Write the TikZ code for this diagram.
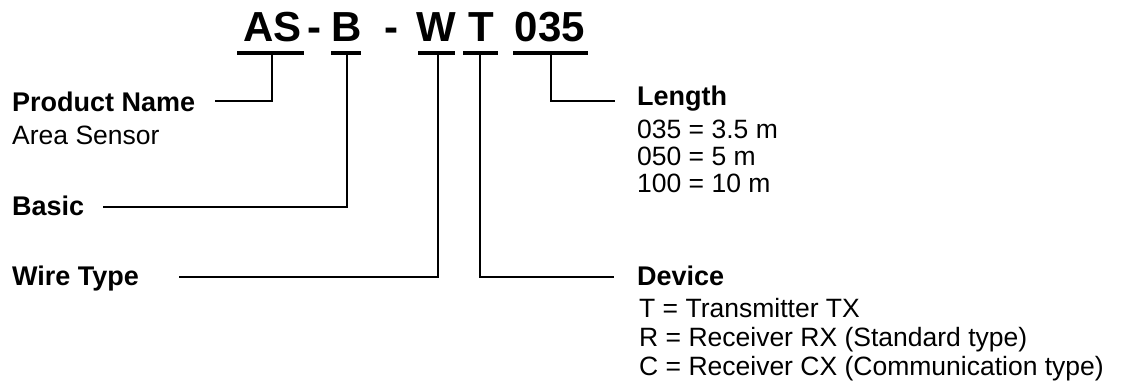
\documentclass[tikz,border=0pt]{standalone}
\usepackage{fontspec}
\setmainfont{Liberation Sans}
\begin{document}
\begin{tikzpicture}[x=1pt,y=-1pt,
  ttl/.style={font=\fontsize{42}{44}\selectfont\bfseries, anchor=base, inner sep=0pt},
  lbl/.style={font=\fontsize{27}{30}\selectfont\bfseries, anchor=base west, inner sep=0pt},
  txt/.style={font=\fontsize{26.5}{28}\selectfont, anchor=base west, inner sep=0pt},
  conn/.style={line width=2.6pt, line join=miter},
  uline/.style={line width=3.2pt}]
\useasboundingbox (0,0) rectangle (1144,390);

% title parts
\node[ttl] (tAS) at (272.5,42) {AS};
\node[ttl] (tD1) at (314,42) {-};
\node[ttl] (tB) at (346.5,42) {B};
\node[ttl] (tD2) at (391,42) {-};
\node[ttl] (tW) at (436,42) {W};
\node[ttl] (tT) at (481,42) {T};
\node[ttl] (tL) at (550,42) {035};

% underlines
\coordinate (uAS) at (272,53);
\coordinate (uB) at (347,53);
\coordinate (uW) at (438,53);
\coordinate (uT) at (480,53);
\coordinate (uL) at (551,53);
\draw[uline] (237,53) -- (304,53);
\draw[uline] (331,53) -- (361,53);
\draw[uline] (418,53) -- (455,53);
\draw[uline] (463,53) -- (498,53);
\draw[uline] (513,53) -- (588,53);

% labels
\node[lbl] (pn) at (12,112) {Product Name};
\node[txt] (as) at (12,145) {Area Sensor};
\node[lbl] (basic) at (12,216) {Basic};
\node[lbl] (wire) at (12,286) {Wire Type};
\node[lbl] (len) at (637,106) {Length};
\node[txt] (l1) at (637,139) {035 = 3.5 m};
\node[txt] (l2) at (637,166) {050 = 5 m};
\node[txt] (l3) at (637,193) {100 = 10 m};
\node[lbl] (dev) at (637,286) {Device};
\node[txt] (d1) at (639,318) {T = Transmitter TX};
\node[txt] (d2) at (639,346.5) {R = Receiver RX (Standard type)};
\node[txt] (d3) at (639,375) {C = Receiver CX (Communication type)};

% connector ends
\coordinate (ePN) at (215,101);
\coordinate (eB) at (103,207);
\coordinate (eW) at (179,277);
\coordinate (eT) at (614,277);
\coordinate (eL) at (615,101);

\draw[conn] (uAS) |- (ePN);
\draw[conn] (uB) |- (eB);
\draw[conn] (uW) |- (eW);
\draw[conn] (uT) |- (eT);
\draw[conn] (uL) |- (eL);
\end{tikzpicture}
\end{document}
